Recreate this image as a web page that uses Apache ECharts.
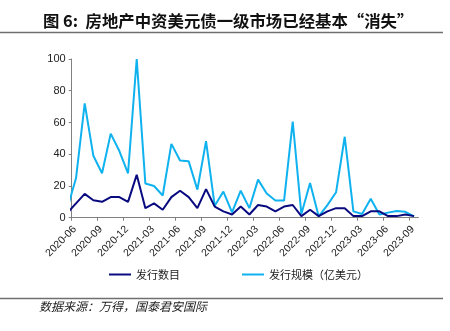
<!DOCTYPE html>
<html>
<head>
<meta charset="utf-8">
<script src="https://cdn.jsdelivr.net/npm/echarts@6/dist/echarts.min.js"></script>
<style>
  html, body { margin: 0; padding: 0; background: #fff; }
  #chart { width: 450px; height: 331px; }
</style>
</head>
<body>
<div id="chart"></div>
<script>
// Monthly issuance of USD bonds by Chinese property developers
const months = [
  '2020-05','2020-06','2020-07','2020-08','2020-09','2020-10','2020-11','2020-12',
  '2021-01','2021-02','2021-03','2021-04','2021-05','2021-06','2021-07','2021-08',
  '2021-09','2021-10','2021-11','2021-12','2022-01','2022-02','2022-03','2022-04',
  '2022-05','2022-06','2022-07','2022-08','2022-09','2022-10','2022-11','2022-12',
  '2023-01','2023-02','2023-03','2023-04','2023-05','2023-06','2023-07','2023-08',
  '2023-09'
];
// number of deals
const issueCount = [
  3, 9, 15, 11, 10, 13, 13, 10,
  27, 6, 9, 5, 13, 17, 13, 6,
  18, 7, 4, 2, 7, 2, 8, 7,
  4, 7, 8, 1, 5, 1, 4, 6,
  6, 1, 1, 4, 4, 1, 1, 2,
  1
];
// amount issued, USD 100m
const issueAmount = [
  6, 25, 72, 39, 28, 53, 42, 28,
  100, 21.5, 20, 14, 46.5, 36, 35.5, 17.7,
  48.2, 7.5, 16.5, 3.3, 17, 6, 24, 15.2,
  10.8, 10.8, 60.6, 2.3, 21.8, 0.8, 7.9, 16,
  51, 4, 2.3, 12, 2, 3.2, 4.2, 3.7,
  0.8
];
const tickMonths = [
  '2020-06','2020-09','2020-12','2021-03','2021-06','2021-09','2021-12',
  '2022-03','2022-06','2022-09','2022-12','2023-03','2023-06','2023-09'
];
const yTicks = [0, 20, 40, 60, 80, 100];
const seriesNames = ['发行数目', '发行规模（亿美元）'];
const titleText = '图 6:  房地产中资美元债一级市场已经基本“消失”';
const sourceText = '数据来源：万得，国泰君安国际';

// each month occupies one unit band; points sit at band centres,
// ticks at the start of the band (first month is the axis origin)
const firstShown = months.indexOf(tickMonths[0]);
const toX = i => i - firstShown + 0.5;
const tickPos = tickMonths.map(m => months.indexOf(m) - firstShown);
// rotated labels hang just to the right of their tick
const labelPos = tickPos.map(p => p + 0.35);
const pairs = arr => arr.map((v, i) => [toX(i), v]);

const chart = echarts.init(document.getElementById('chart'), null, { renderer: 'canvas' });
const latin = 'Liberation Sans, Arial, sans-serif';
const cjk = '"Noto Sans CJK SC", sans-serif';

chart.setOption({
  animation: false,
  backgroundColor: '#fff',
  title: {
    text: titleText,
    left: 38,
    top: 8,
    textStyle: { fontFamily: cjk, fontSize: 16.4, fontWeight: 'bold', color: '#111' }
  },
  graphic: [
    { type: 'line', shape: { x1: 0, y1: 32.5, x2: 443, y2: 32.5 },
      style: { stroke: '#6f6f6f', lineWidth: 1.5 } },
    { type: 'line', shape: { x1: 0, y1: 298.5, x2: 443, y2: 298.5 },
      style: { stroke: '#6f6f6f', lineWidth: 1.5 } },
    { type: 'text', left: 39, top: 300,
      style: { text: sourceText, font: 'italic 12px "Noto Sans CJK SC", sans-serif', fill: '#222' } }
  ],
  legend: {
    left: 104,
    top: 264,
    itemGap: 62,
    itemWidth: 22,
    itemHeight: 12,
    icon: 'path://M0,5 L22,5 L22,7 L0,7 Z',
    data: seriesNames,
    textStyle: { fontFamily: cjk, fontSize: 11, color: '#222' }
  },
  grid: { left: 71.7, right: 31.6, top: 59, bottom: 113.3, containLabel: false },
  xAxis: {
    type: 'value',
    min: 0,
    max: months.length - firstShown,
    splitLine: { show: false },
    axisLine: { lineStyle: { color: '#808080', width: 1 } },
    axisTick: { show: true, length: 3, lineStyle: { color: '#808080' }, customValues: tickPos },
    axisLabel: {
      customValues: labelPos,
      rotate: 45,
      margin: 10,
      fontFamily: latin,
      fontSize: 10.5,
      color: '#222',
      formatter: v => months[Math.floor(v) + firstShown] || ''
    }
  },
  yAxis: {
    type: 'value',
    min: yTicks[0],
    max: yTicks[yTicks.length - 1],
    interval: yTicks[1] - yTicks[0],
    splitLine: { show: false },
    axisLine: { show: true, lineStyle: { color: '#808080', width: 1 } },
    axisTick: { show: true, length: 3, lineStyle: { color: '#808080' } },
    axisLabel: { margin: 6, fontFamily: latin, fontSize: 11, color: '#222' }
  },
  series: [
    {
      name: seriesNames[0],
      type: 'line',
      data: pairs(issueCount),
      symbol: 'none',
      clip: true,
      z: 3,
      itemStyle: { color: '#0a0a80' },
      lineStyle: { color: '#0a0a80', width: 2 }
    },
    {
      name: seriesNames[1],
      type: 'line',
      data: pairs(issueAmount),
      symbol: 'none',
      clip: true,
      z: 2,
      itemStyle: { color: '#0fb2ef' },
      lineStyle: { color: '#0fb2ef', width: 2 }
    }
  ]
});
</script>
</body>
</html>
